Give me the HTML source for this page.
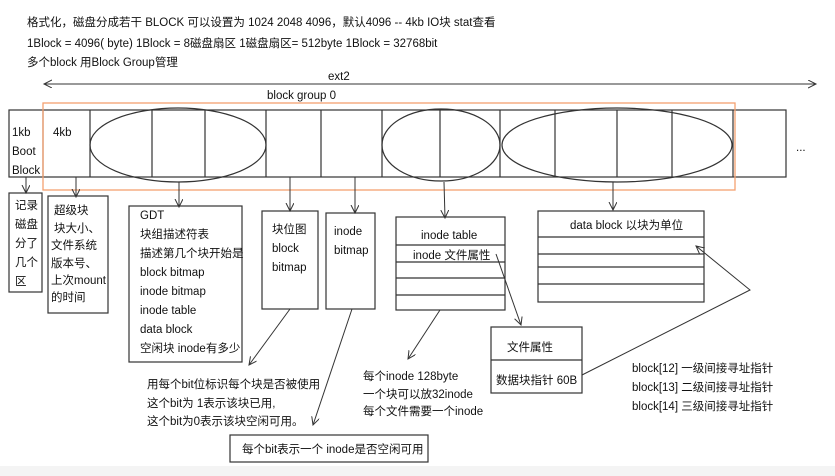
<!DOCTYPE html>
<html><head><meta charset="utf-8"><style>
body{margin:0;background:#fff;}
svg{display:block;font-family:"Liberation Sans","Noto Sans CJK SC",sans-serif;}
text{font-size:11.5px;fill:#111;}
</style></head><body>
<svg width="835" height="476" viewBox="0 0 835 476" xmlns="http://www.w3.org/2000/svg">
<defs><marker id="a" markerWidth="10" markerHeight="10" refX="8" refY="4" orient="auto" markerUnits="userSpaceOnUse"><path d="M0,0 L8,4 L0,8" fill="none" stroke="#333" stroke-width="1"/></marker></defs>
<rect x="0" y="466" width="835" height="10" fill="#f4f4f4"/>
<text x="27" y="26">格式化，磁盘分成若干 BLOCK  可以设置为 1024 2048 4096，默认4096 -- 4kb IO块   stat查看</text>
<text x="27" y="47">1Block = 4096( byte)  1Block = 8磁盘扇区  1磁盘扇区= 512byte  1Block = 32768bit</text>
<text x="27" y="66">多个block 用Block Group管理</text>
<line x1="44" y1="84" x2="816" y2="84" stroke="#333" marker-end="url(#a)"/>
<line x1="816" y1="84" x2="44" y2="84" stroke="#333" marker-end="url(#a)"/>
<text x="328" y="80">ext2</text>
<text x="267" y="99">block group 0</text>
<g fill="none" stroke="#333" stroke-width="1.2">
<rect x="9" y="110" width="777" height="67"/>
<line x1="43" y1="110" x2="43" y2="177"/>
<line x1="90" y1="110" x2="90" y2="177"/>
<line x1="152" y1="110" x2="152" y2="177"/>
<line x1="205" y1="110" x2="205" y2="177"/>
<line x1="266" y1="110" x2="266" y2="177"/>
<line x1="321" y1="110" x2="321" y2="177"/>
<line x1="382" y1="110" x2="382" y2="177"/>
<line x1="440" y1="110" x2="440" y2="177"/>
<line x1="500" y1="110" x2="500" y2="177"/>
<line x1="555" y1="110" x2="555" y2="177"/>
<line x1="617" y1="110" x2="617" y2="177"/>
<line x1="672" y1="110" x2="672" y2="177"/>
<line x1="733" y1="110" x2="733" y2="177"/>
<ellipse cx="178" cy="145" rx="88" ry="37"/>
<ellipse cx="441" cy="145" rx="59" ry="36"/>
<ellipse cx="617" cy="145" rx="115" ry="37"/>
</g>
<rect x="43" y="103" width="692" height="87" fill="none" stroke="#f4a070" stroke-width="1.3"/>
<text x="12" y="136">1kb</text><text x="12" y="155">Boot</text><text x="12" y="174">Block</text>
<text x="53" y="136">4kb</text>
<text x="796" y="151">...</text>
<g stroke="#333" stroke-width="1" marker-end="url(#a)">
<line x1="26" y1="177" x2="26" y2="193"/>
<line x1="76" y1="177" x2="76" y2="197"/>
<line x1="179" y1="182" x2="179" y2="207"/>
<line x1="290" y1="177" x2="290" y2="211"/>
<line x1="355" y1="177" x2="355" y2="213"/>
<line x1="444" y1="182" x2="445" y2="218"/>
<line x1="613" y1="182" x2="613" y2="210"/>
<line x1="290" y1="309" x2="249" y2="365"/>
<line x1="352" y1="309" x2="313" y2="425"/>
<line x1="440" y1="310" x2="408" y2="359"/>
<line x1="496" y1="254" x2="521" y2="325"/>
<polyline points="582,375 750,290 696,246" fill="none"/>
</g>
<g fill="none" stroke="#333" stroke-width="1.2">
<rect x="9" y="193" width="33" height="99"/>
<rect x="48" y="196" width="60" height="117"/>
<rect x="129" y="206" width="113" height="156"/>
<rect x="262" y="211" width="56" height="98"/>
<rect x="326" y="213" width="49" height="96"/>
<rect x="396" y="217" width="109" height="93"/>
<line x1="396" y1="245" x2="505" y2="245"/><line x1="396" y1="262" x2="505" y2="262"/><line x1="396" y1="278" x2="505" y2="278"/><line x1="396" y1="295" x2="505" y2="295"/>
<rect x="538" y="211" width="166" height="91"/>
<line x1="538" y1="237" x2="704" y2="237"/><line x1="538" y1="254" x2="704" y2="254"/><line x1="538" y1="267" x2="704" y2="267"/><line x1="538" y1="284" x2="704" y2="284"/>
<rect x="491" y="327" width="91" height="66"/>
<line x1="491" y1="360" x2="582" y2="360"/>
<rect x="230" y="435" width="198" height="27"/>
</g>
<g style="font-size:11px">
<text x="15" y="209">记录</text><text x="15" y="228">磁盘</text><text x="15" y="247">分了</text><text x="15" y="266">几个</text><text x="15" y="285">区</text>
</g>
<g style="font-size:10px">
<text x="54" y="214">超级块</text><text x="54" y="232">块大小、</text><text x="51" y="249">文件系统</text><text x="51" y="267">版本号、</text><text x="51" y="284">上次mount</text><text x="51" y="301">的时间</text>
</g>
<text x="140" y="219">GDT</text><text x="140" y="238">块组描述符表</text><text x="140" y="257">描述第几个块开始是</text><text x="140" y="276">block bitmap</text><text x="140" y="295">inode bitmap</text><text x="140" y="314">inode table</text><text x="140" y="333">data block</text><text x="140" y="352">空闲块 inode有多少</text>
<text x="272" y="233">块位图</text><text x="272" y="252">block</text><text x="272" y="271">bitmap</text>
<text x="334" y="235">inode</text><text x="334" y="254">bitmap</text>
<text x="421" y="239">inode table</text>
<text x="413" y="259">inode 文件属性</text>
<text x="570" y="229">data block 以块为单位</text>
<text x="507" y="351">文件属性</text>
<text x="496" y="384">数据块指针 60B</text>
<text x="147" y="388">用每个bit位标识每个块是否被使用</text>
<text x="147" y="407">这个bit为 1表示该块已用,</text>
<text x="147" y="425">这个bit为0表示该块空闲可用。</text>
<text x="363" y="380">每个inode 128byte</text>
<text x="363" y="398">一个块可以放32inode</text>
<text x="363" y="415">每个文件需要一个inode</text>
<text x="632" y="372">block[12] 一级间接寻址指针</text>
<text x="632" y="391">block[13] 二级间接寻址指针</text>
<text x="632" y="410">block[14] 三级间接寻址指针</text>
<text x="242" y="453">每个bit表示一个 inode是否空闲可用</text>
</svg>
</body></html>
